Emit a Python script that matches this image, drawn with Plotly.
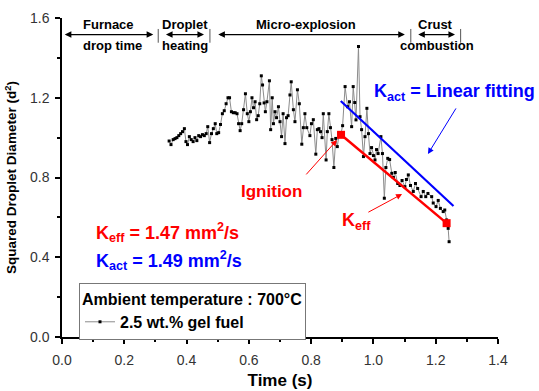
import plotly.graph_objects as go

# ---------------- data ----------------
time_s = [0.344, 0.350, 0.357, 0.363, 0.369, 0.375, 0.381, 0.387, 0.393, 0.398,
          0.403, 0.409, 0.415, 0.421, 0.427, 0.433, 0.439, 0.445, 0.451, 0.457,
          0.463, 0.468, 0.474, 0.480, 0.486, 0.492, 0.497, 0.503, 0.509, 0.515,
          0.521, 0.527, 0.533, 0.538, 0.544, 0.550, 0.556, 0.562, 0.567, 0.572,
          0.577, 0.583, 0.589, 0.595, 0.600, 0.605, 0.610, 0.615, 0.620, 0.625,
          0.630, 0.635, 0.640, 0.644, 0.649, 0.653, 0.658, 0.666, 0.670, 0.675,
          0.679, 0.684, 0.689, 0.695, 0.700, 0.705, 0.710, 0.716, 0.721, 0.726,
          0.732, 0.736, 0.743, 0.748, 0.756, 0.762, 0.770, 0.775, 0.780, 0.786,
          0.796, 0.801, 0.807, 0.815, 0.820, 0.825, 0.830, 0.835, 0.839, 0.848,
          0.852, 0.857, 0.862, 0.867, 0.873, 0.879, 0.884, 0.890, 0.896, 0.901,
          0.909, 0.917, 0.923, 0.930, 0.935, 0.940, 0.944, 0.952, 0.957, 0.962,
          0.968, 0.973, 0.979, 0.984, 0.989, 0.994, 1.000, 1.005, 1.010, 1.015,
          1.024, 1.029, 1.035, 1.040, 1.046, 1.052, 1.059, 1.064, 1.070, 1.078,
          1.085, 1.092, 1.101, 1.106, 1.112, 1.119, 1.128, 1.135, 1.142, 1.153,
          1.160, 1.168, 1.175, 1.187, 1.192, 1.201, 1.208, 1.215, 1.224, 1.229,
          1.235, 1.240, 1.243]
d2 = [0.983, 0.965, 0.990, 0.995, 1.000, 1.010, 1.020, 1.030, 1.045, 0.980,
      0.965, 1.005, 0.990, 0.980, 1.000, 0.985, 1.010, 1.005, 1.015, 1.010,
      1.020, 1.055, 0.975, 1.020, 1.045, 1.070, 1.020, 1.025, 1.066, 1.120,
      1.135, 1.170, 1.200, 1.200, 1.130, 1.125, 1.125, 1.120, 1.070, 1.035,
      1.070, 1.140, 1.220, 1.120, 1.080, 1.130, 1.200, 1.150, 1.180, 1.090,
      1.110, 1.170, 1.310, 1.264, 1.174, 1.130, 1.180, 1.285, 1.040, 1.200,
      1.070, 1.130, 1.100, 1.155, 1.080, 1.005, 1.120, 0.970, 1.100, 1.110,
      1.214, 1.280, 1.140, 1.080, 1.240, 1.170, 0.967, 1.050, 1.120, 1.050,
      1.010, 1.070, 1.090, 0.917, 1.040, 1.045, 1.030, 1.000, 1.120, 0.888,
      1.030, 1.120, 1.050, 0.990, 0.850, 0.996, 0.955, 1.020, 1.020, 1.060,
      1.256, 1.155, 1.180, 1.055, 1.256, 1.176, 1.089, 1.457, 1.105, 1.040,
      0.905, 1.005, 1.147, 1.020, 0.920, 0.950, 0.910, 0.888, 0.940, 0.920,
      1.005, 0.920, 0.696, 0.850, 0.896, 0.890, 0.821, 0.800, 0.825, 0.770,
      0.760, 0.785, 0.754, 0.790, 0.813, 0.760, 0.730, 0.770, 0.745, 0.704,
      0.730, 0.704, 0.720, 0.704, 0.672, 0.654, 0.685, 0.645, 0.629, 0.637,
      0.587, 0.545, 0.478]

keff_t = [0.896, 1.235]
keff_d2 = [1.014, 0.571]
kact_t = [0.895, 1.257]
kact_d2 = [1.184, 0.657]

x_ticks = [0.0, 0.2, 0.4, 0.6, 0.8, 1.0, 1.2, 1.4]
y_ticks = [0.0, 0.4, 0.8, 1.2, 1.6]

FONT = "Liberation Sans, Arial, sans-serif"
RED = "#ff0000"
BLUE = "#0000ff"

fig = go.Figure()
fig.add_trace(go.Scatter(
    x=time_s, y=d2, mode="lines+markers", name="<b>2.5 wt.% gel fuel</b>",
    line=dict(color="#8c8c8c", width=1),
    marker=dict(symbol="square", size=3, color="black"),
))
fig.add_trace(go.Scatter(
    x=kact_t, y=kact_d2, mode="lines", showlegend=False,
    line=dict(color=BLUE, width=2.2),
))
fig.add_trace(go.Scatter(
    x=keff_t, y=keff_d2, mode="lines+markers", showlegend=False,
    line=dict(color=RED, width=2.5),
    marker=dict(symbol="square", size=8, color=RED),
))

axis_common = dict(
    showline=True, linecolor="black", linewidth=1.5, mirror=False,
    showgrid=False, zeroline=False, ticks="outside", ticklen=5,
    tickwidth=1.5, tickcolor="black", automargin=False,
    tickfont=dict(family=FONT, size=14, color="#333"),
)
fig.update_xaxes(
    range=[0, 1.4], tickvals=x_ticks, ticktext=[f"{v:.1f}" for v in x_ticks],
    minor=dict(ticks="outside", ticklen=3, dtick=0.1, tick0=0,
               tickcolor="black", tickwidth=1.5),
    ticklabelstandoff=4,
    title=dict(text="<b>Time (s)</b>", font=dict(family=FONT, size=17, color="black"),
               standoff=8),
    **axis_common,
)
fig.update_yaxes(
    range=[0, 1.6], tickvals=y_ticks, ticktext=[f"{v:.1f}" for v in y_ticks],
    minor=dict(ticks="outside", ticklen=3, dtick=0.2, tick0=0,
               tickcolor="black", tickwidth=1.5),
    ticklabelstandoff=3,
    title=dict(text="<b>Squared Droplet Diameter (d<sup>2</sup>)</b>",
               font=dict(family=FONT, size=13.5, color="black"), standoff=10),
    **axis_common,
)

ann = []
# phase labels
ytop, ybot, yarr = 1.569, 1.462, 1.517
def txt(x, y, s, size=13, color="black", xanchor="center"):
    ann.append(dict(x=x, y=y, xref="x", yref="y", text=s, showarrow=False,
                    xanchor=xanchor, yanchor="middle",
                    font=dict(family=FONT, size=size, color=color)))
txt(0.148, ytop, "<b>Furnace</b>")
txt(0.161, ybot, "<b>drop time</b>")
txt(0.394, ytop, "<b>Droplet</b>")
txt(0.394, ybot, "<b>heating</b>")
txt(0.783, ytop, "<b>Micro-explosion</b>")
txt(1.198, ytop, "<b>Crust</b>")
txt(1.203, ybot, "<b>combustion</b>")

def darrow(x0, x1, y):
    ann.append(dict(x=x1, y=y, ax=x0, ay=y, xref="x", yref="y", axref="x", ayref="y",
                    text="", showarrow=True, arrowside="end+start", arrowhead=2,
                    arrowsize=1.1, arrowwidth=1.2, arrowcolor="black"))
darrow(0.004, 0.293, yarr)
darrow(0.329, 0.456, yarr)
darrow(0.497, 1.101, yarr)
darrow(1.139, 1.262, yarr)

shapes = []
for xb in [0.309, 0.475, 1.120, 1.280]:
    shapes.append(dict(type="line", xref="x", yref="y", x0=xb, x1=xb, y0=1.476, y1=1.545,
                       line=dict(color="#555", width=1)))

# arrows in plot
def arrow(x0, y0, x1, y1, color):
    ann.append(dict(x=x1, y=y1, ax=x0, ay=y0, xref="x", yref="y", axref="x", ayref="y",
                    text="", showarrow=True, arrowhead=2, arrowsize=1.2, arrowwidth=1,
                    arrowcolor=color))
arrow(1.268, 1.154, 1.175, 0.918, BLUE)
arrow(0.780, 0.808, 0.883, 0.988, RED)
arrow(0.979, 0.622, 1.092, 0.717, RED)

txt(0.995, 1.224, "<b>K<sub>act</sub> = Linear fitting</b>", size=18, color=BLUE, xanchor="left")
txt(0.674, 0.732, "<b>Ignition</b>", size=17, color=RED)
txt(0.894, 0.578, "<b>K<sub>eff</sub></b>", size=18, color=RED, xanchor="left")
txt(0.103, 0.525, "<b>K<sub>eff</sub> = 1.47 mm<sup>2</sup>/s</b>", size=18, color=RED, xanchor="left")
txt(0.103, 0.385, "<b>K<sub>act</sub> = 1.49 mm<sup>2</sup>/s</b>", size=18, color=BLUE, xanchor="left")

fig.update_layout(
    width=539, height=391,
    margin=dict(l=62, r=41, t=18, b=54, autoexpand=False),
    plot_bgcolor="white", paper_bgcolor="white",
    font=dict(family=FONT, color="black"),
    annotations=ann, shapes=shapes,
    showlegend=True,
    legend=dict(
        x=0.039, y=0.169, xanchor="left", yanchor="top",
        bordercolor="#777", borderwidth=1, bgcolor="white",
        title=dict(text="<b>Ambient temperature : 700°C</b>",
                   font=dict(family=FONT, size=16, color="black"), side="top"),
        font=dict(family=FONT, size=16, color="black"),
        itemwidth=30, tracegroupgap=0,
    ),
)

fig.write_html("out.html")
